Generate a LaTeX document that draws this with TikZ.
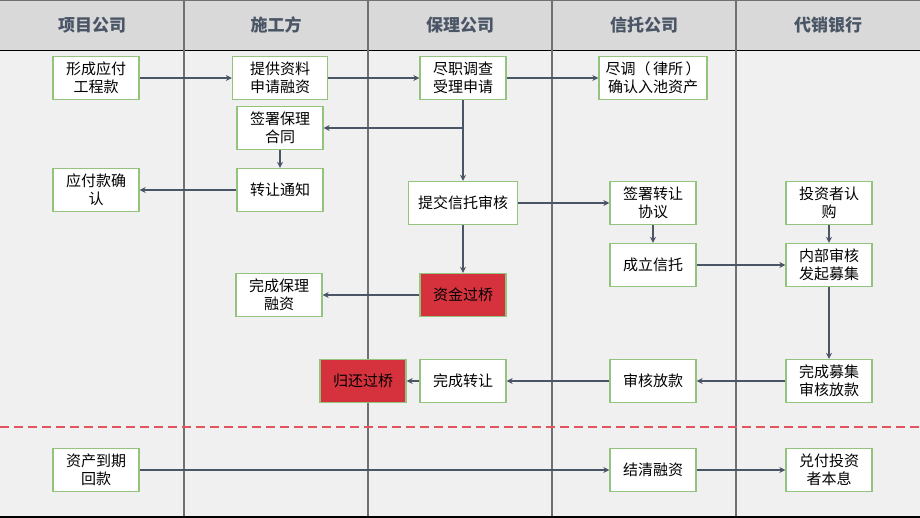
\documentclass[tikz,border=0pt]{standalone}
\usepackage{fontspec}
\setmainfont{Noto Sans CJK SC}
\usetikzlibrary{arrows.meta}

\definecolor{headbg}{HTML}{D9D9D9}
\definecolor{lanebg}{HTML}{F0F0F0}
\definecolor{headtxt}{HTML}{4A5566}
\definecolor{flow}{HTML}{4A5566}
\definecolor{boxline}{HTML}{93C47D}
\definecolor{bridge}{HTML}{D5323E}
\definecolor{cutline}{HTML}{E0565C}
\definecolor{laneline}{HTML}{707070}

\tikzset{
  stepbox/.style={draw=boxline, line width=1.3pt, fill=white, align=center,
    minimum width=86pt, minimum height=43pt, inner sep=2pt,
    font=\fontsize{15}{18}\selectfont},
  redbox/.style={stepbox, fill=bridge},
  lanehead/.style={text=headtxt, font=\fontsize{17}{20}\selectfont\bfseries},
  flowline/.style={draw=flow, line width=1.6pt}
}

\begin{document}
\begin{tikzpicture}[x=1pt,y=-1pt,->,>={Stealth[length=6pt,width=6pt]}]
  \useasboundingbox (0,0) rectangle (920,518);
  % lanes
  \fill[lanebg] (0,0) rectangle (920,518);
  \fill[headbg] (0,0) rectangle (920,50);
  \draw[-, black, line width=0.8pt] (0,50) -- (920,50);
  \draw[-, laneline, line width=1.5pt] (0,0) -- (920,0);
  \foreach \x in {184,368,552,736}
    \draw[-, laneline, line width=1.5pt] (\x,0) -- (\x,518);
  \draw[-, black, line width=1.5pt] (0,517) -- (920,517);
  \draw[-, cutline, line width=1.2pt, dash pattern=on 9pt off 5pt] (0,427) -- (920,427);

  \node[lanehead] (H1) at (92,25) {项目公司};
  \node[lanehead] (H2) at (276,25) {施工方};
  \node[lanehead] (H3) at (460,25) {保理公司};
  \node[lanehead] (H4) at (644,25) {信托公司};
  \node[lanehead] (H5) at (828,25) {代销银行};

  % steps
  \node[stepbox] (Pay) at (96,78) {形成应付\\工程款};
  \node[stepbox, minimum width=95pt] (Apply) at (280,78) {提供资料\\申请融资};
  \node[stepbox] (Check) at (463,78) {尽职调查\\受理申请};
  \node[stepbox, minimum width=108pt] (Pool) at (653,78) {尽调（\,律所\,）\\确认入池资产};
  \node[stepbox] (Sign) at (280,128) {签署保理\\合同};
  \node[stepbox] (Note) at (280,190) {转让通知};
  \node[stepbox] (Ack) at (96,190) {应付款确\\认};
  \node[stepbox, minimum width=109pt] (Submit) at (463,203) {提交信托审核};
  \node[stepbox] (Deal) at (653,203) {签署转让\\协议};
  \node[stepbox] (Buy) at (829,203) {投资者认\\购};
  \node[stepbox] (Trust) at (653,265) {成立信托};
  \node[stepbox] (Raise) at (829,265) {内部审核\\发起募集};
  \node[redbox] (Bridge) at (463,295) {资金过桥};
  \node[stepbox] (Done) at (279,295) {完成保理\\融资};
  \node[redbox] (Back) at (363,381) {归还过桥};
  \node[stepbox] (Move) at (463,381) {完成转让};
  \node[stepbox] (Loan) at (653,381) {审核放款};
  \node[stepbox] (Full) at (829,381) {完成募集\\审核放款};
  \node[stepbox] (Due) at (96,470) {资产到期\\回款};
  \node[stepbox] (Clear) at (653,470) {结清融资};
  \node[stepbox] (Repay) at (829,470) {兑付投资\\者本息};

  % flows
  \coordinate (Fork) at (Check |- Sign);
  \draw[flowline] (Pay) -- (Apply);
  \draw[flowline] (Apply) -- (Check);
  \draw[flowline] (Check) -- (Pool);
  \draw[flowline] (Check) -- (Submit);
  \draw[flowline] (Fork) -- (Sign);
  \draw[flowline] (Sign) -- (Note);
  \draw[flowline] (Note) -- (Ack);
  \draw[flowline] (Submit) -- (Deal);
  \draw[flowline] (Submit) -- (Bridge);
  \draw[flowline] (Bridge) -- (Done);
  \draw[flowline] (Deal) -- (Trust);
  \draw[flowline] (Trust) -- (Raise);
  \draw[flowline] (Buy) -- (Raise);
  \draw[flowline] (Raise) -- (Full);
  \draw[flowline] (Full) -- (Loan);
  \draw[flowline] (Loan) -- (Move);
  \draw[flowline] (Move) -- (Back);
  \draw[flowline] (Due) -- (Clear);
  \draw[flowline] (Clear) -- (Repay);
\end{tikzpicture}
\end{document}
